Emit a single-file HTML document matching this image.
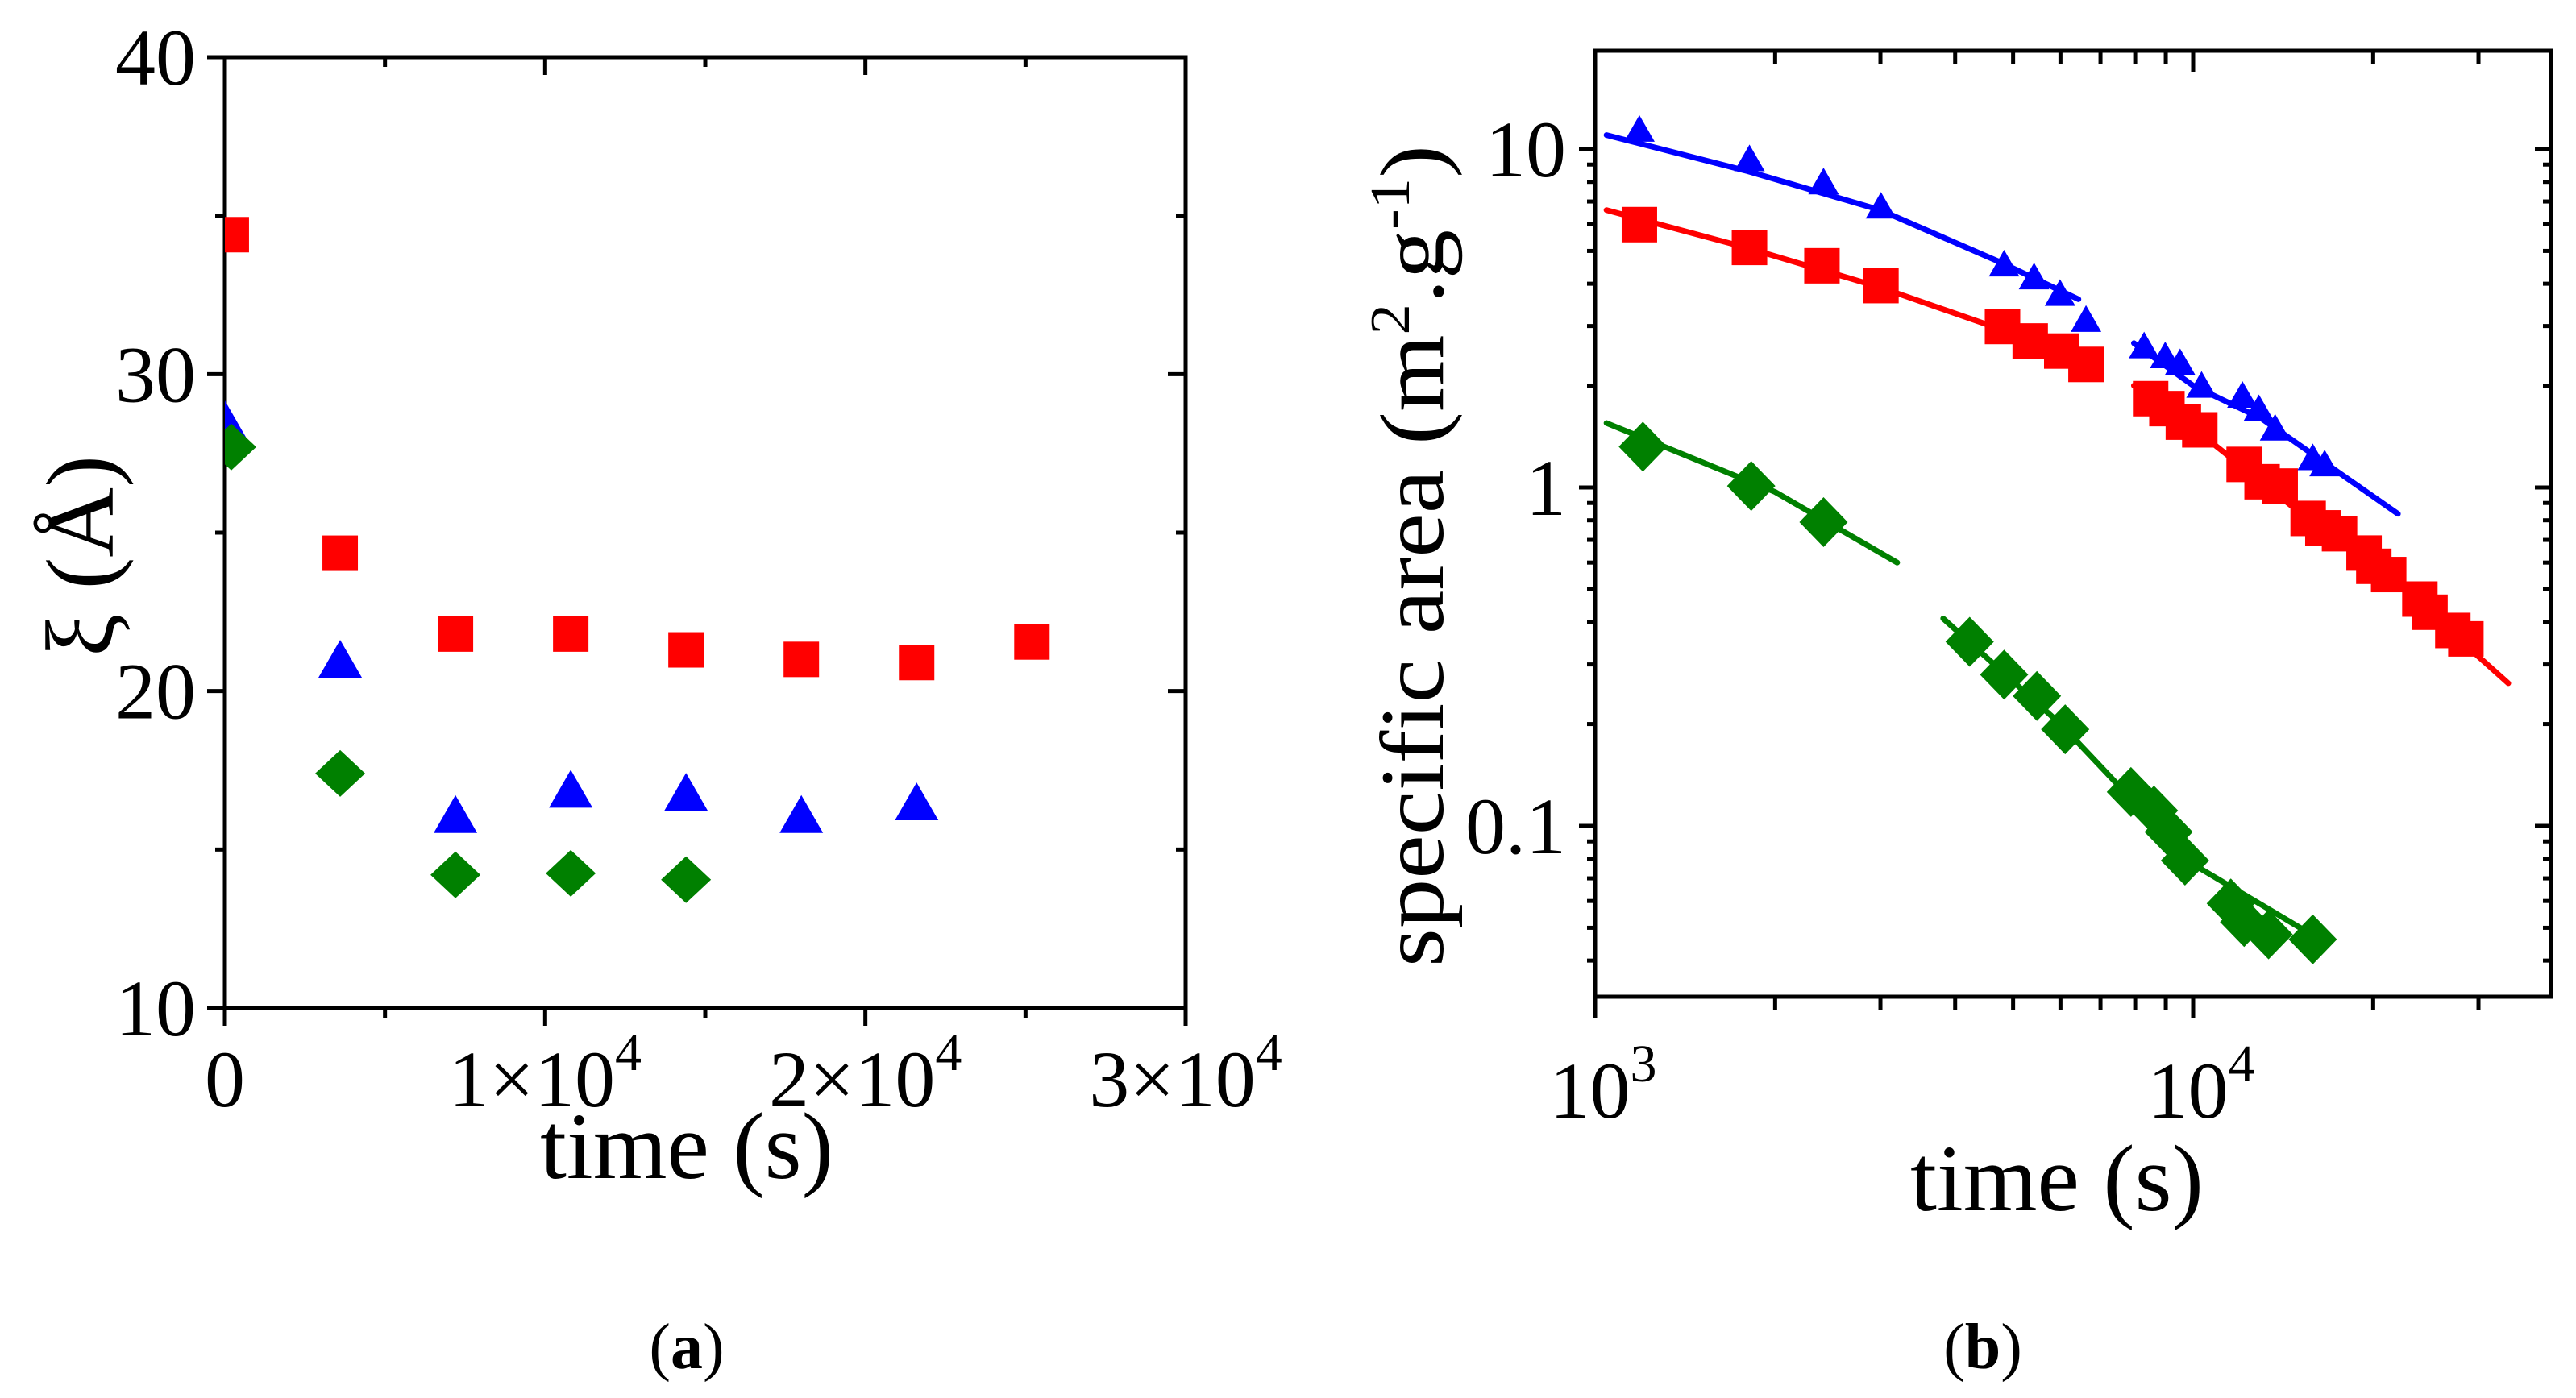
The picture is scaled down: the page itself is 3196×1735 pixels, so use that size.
<!DOCTYPE html>
<html><head><meta charset="utf-8"><style>
html,body{margin:0;padding:0;background:#fff;}
svg{display:block;}
text{font-family:"Liberation Serif",serif;fill:#000;}
</style></head><body>
<svg id="fig" width="3196" height="1735" viewBox="0 0 3196 1735" xmlns="http://www.w3.org/2000/svg">
<g id="pa"></g>
<g id="pb"></g>
<text x="852" y="1698" font-size="80" text-anchor="middle">(<tspan font-weight="bold">a</tspan>)</text>
<text x="2460" y="1698" font-size="80" text-anchor="middle">(<tspan font-weight="bold">b</tspan>)</text>
</svg>
<script>
// ---- Panel A data ----
const aRedT = [200, 3600, 7200, 10800, 14400, 18000, 21600, 25200];
const aRedY = [34.4, 24.35, 21.8, 21.8, 21.3, 21.0, 20.9, 21.55];
const aBlueT = [0, 3600, 7200, 10800, 14400, 18000, 21600];
const aBlueY = [28.45, 20.9, 16.0, 16.8, 16.7, 16.0, 16.4];
const aGreenT = [200, 3600, 7200, 10800, 14400];
const aGreenY = [27.7, 17.4, 14.2, 14.25, 14.05];
const aYTicks = [10, 20, 30, 40];
const aXTicks = [0, 10000, 20000, 30000];
const aXTickLabels = ["0", "1×10", "2×10", "3×10"];

// ---- Panel B data ----
const bBlueT = [1186, 1812, 2410, 3006, 4830, 5420, 5990, 6620, 8280, 8980, 9510, 10330, 12090, 12880, 13710, 15850, 16590];
const bBlueS = [11.3, 9.25, 7.9, 6.7, 4.52, 4.14, 3.7, 3.1, 2.59, 2.42, 2.31, 1.98, 1.85, 1.69, 1.48, 1.21, 1.16];
const bRedT = [1186, 1812, 2395, 3006, 4800, 5340, 6030, 6620, 8490, 9040, 9630, 10260, 12170, 13040, 13980, 15570, 16480, 17570, 19310, 20050, 21230, 23940, 24890, 27180, 28580];
const bRedS = [5.98, 5.12, 4.52, 3.95, 2.99, 2.71, 2.53, 2.31, 1.83, 1.71, 1.56, 1.48, 1.17, 1.04, 1.01, 0.81, 0.76, 0.73, 0.64, 0.585, 0.553, 0.468, 0.428, 0.378, 0.357];
const bGreenT = [1202, 1824, 2410, 4230, 4830, 5480, 6110, 7870, 8600, 9100, 9690, 11560, 12170, 13370, 15850];
const bGreenS = [1.32, 1.01, 0.79, 0.35, 0.28, 0.242, 0.193, 0.126, 0.111, 0.096, 0.079, 0.059, 0.052, 0.0478, 0.0462];
const bBlueFit1T = [1045, 1800, 3000, 4800, 6430];
const bBlueFit1S = [11.0, 8.6, 6.6, 4.6, 3.6];
const bBlueFit2T = [7960, 10000, 13000, 22000];
const bBlueFit2S = [2.67, 2.0, 1.6, 0.836];
const bRedFit1T = [1045, 1800, 3000, 5000, 6900];
const bRedFit1S = [6.6, 5.1, 3.9, 2.85, 2.25];
const bRedFit2T = [7960, 10000, 15000, 20000, 33650];
const bRedFit2S = [2.0, 1.5, 0.85, 0.6, 0.264];
const bGreenFit1T = [1045, 2000, 3200];
const bGreenFit1S = [1.55, 0.97, 0.6];
const bGreenFit2T = [3820, 6000, 10000, 15100];
const bGreenFit2S = [0.41, 0.2, 0.077, 0.05];
const bYTicks = [0.1, 1, 10];
const bYTickLabels = ["0.1", "1", "10"];
const bXTicks = [1000, 10000];
const bXTickExp = ["3", "4"];

const NS = "http://www.w3.org/2000/svg";
function mk(parent, tag, attrs) {
  const e = document.createElementNS(NS, tag);
  for (const k in attrs) e.setAttribute(k, attrs[k]);
  parent.appendChild(e);
  return e;
}
const RED = "#ff0000", BLUE = "#0000ff", GREEN = "#008000";

function square(g, x, y, s, c) { return mk(g, "rect", {x: x - s / 2, y: y - s / 2, width: s, height: s, fill: c}); }
function tri(g, x, y, s, c) { const h = s * 0.87; return mk(g, "polygon", {points: `${x},${y - h * 0.6} ${x - s / 2},${y + h * 0.4} ${x + s / 2},${y + h * 0.4}`, fill: c}); }
function diam(g, x, y, w, h, c) { return mk(g, "polygon", {points: `${x},${y - h / 2} ${x + w / 2},${y} ${x},${y + h / 2} ${x - w / 2},${y}`, fill: c, "stroke-linejoin": "round"}); }

// ---------- Panel A ----------
(function () {
  const g = document.getElementById("pa");
  const L = 279, R = 1471, T = 71, B = 1251;
  const X = t => L + (t - 0) / 30000 * (R - L);
  const Y = v => B - (v - 10) / 30 * (B - T);
  const ax = mk(g, "g", {});
  
  
  const fr = mk(ax, "rect", {x: L, y: T, width: R - L, height: B - T, fill: "none", stroke: "#000", "stroke-width": 5});
  
  
  for (let v = 10; v <= 40; v += 5) {
    const major = v % 10 === 0, len = major ? 22 : 12;
    mk(ax, "line", {x1: L - len, x2: L, y1: Y(v), y2: Y(v), stroke: "#000", "stroke-width": 5});
    mk(ax, "line", {x1: R, x2: R - len, y1: Y(v), y2: Y(v), stroke: "#000", "stroke-width": 5});
  }
  for (let t = 0; t <= 30000; t += 5000) {
    const major = t % 10000 === 0, len = major ? 22 : 12;
    mk(ax, "line", {x1: X(t), x2: X(t), y1: B, y2: B + len, stroke: "#000", "stroke-width": 5});
    mk(ax, "line", {x1: X(t), x2: X(t), y1: T, y2: T + len, stroke: "#000", "stroke-width": 5});
  }
  aYTicks.forEach(v => {
    const t = mk(ax, "text", {x: L - 36, y: Y(v) + 34, "font-size": 100, "text-anchor": "end"});
    t.textContent = String(v);
    
    
  });
  aXTicks.forEach((v, i) => {
    const t = mk(ax, "text", {x: X(v), y: B + 122, "font-size": 100, "text-anchor": "middle"});
    t.textContent = aXTickLabels[i];
    if (i > 0) { const s = mk(t, "tspan", {dy: -45, "font-size": 66}); s.textContent = "4"; }
    
    
  });
  const xt = mk(g, "text", {x: 852, y: 1462, "font-size": 118, "text-anchor": "middle"});
  xt.textContent = "time (s)";
  
  
  const yt = mk(g, "text", {x: 0, y: 0, "font-size": 120, "text-anchor": "middle", transform: "translate(140,690) rotate(-90)"});
  yt.textContent = "ξ (Å)";
  
  
  const clip = mk(g, "clipPath", {id: "clipA"});
  mk(clip, "rect", {x: L, y: T, width: R - L, height: B - T});
  const pts = mk(g, "g", {"clip-path": "url(#clipA)"});
  aRedT.forEach((t, i) => { const e = square(pts, X(t), Y(aRedY[i]), 44, RED);   });
  aBlueT.forEach((t, i) => { const e = tri(pts, X(t), Y(aBlueY[i]), 54, BLUE);   });
  aGreenT.forEach((t, i) => { const e = diam(pts, X(t), Y(aGreenY[i]), 62, 58, GREEN);   });
})();

// ---------- Panel B ----------
(function () {
  const g = document.getElementById("pb");
  const L = 1979, R = 3165, T = 63, B = 1237;
  const DX = 742, DY = 420, Y10 = 185;
  const X = t => L + (Math.log10(t) - 3) * DX;
  const Y = s => Y10 - (Math.log10(s) - 1) * DY;
  const ax = mk(g, "g", {});
  
  
  const fr = mk(ax, "rect", {x: L, y: T, width: R - L, height: B - T, fill: "none", stroke: "#000", "stroke-width": 5});
  
  
  for (let d = -2; d <= 1; d++) for (let m = 1; m <= 9; m++) {
    const v = m * Math.pow(10, d), y = Y(v);
    if (y < T - 1 || y > B + 1) continue;
    const len = m === 1 ? 20 : 10;
    mk(ax, "line", {x1: L - len, x2: L, y1: y, y2: y, stroke: "#000", "stroke-width": 5});
    mk(ax, "line", {x1: R, x2: R - len, y1: y, y2: y, stroke: "#000", "stroke-width": 5});
  }
  for (let d = 3; d <= 4; d++) for (let m = 1; m <= 9; m++) {
    const v = m * Math.pow(10, d), x = X(v);
    if (x > R + 1) continue;
    const len = m === 1 ? 26 : 16;
    mk(ax, "line", {x1: x, x2: x, y1: B, y2: B + len, stroke: "#000", "stroke-width": 5});
    mk(ax, "line", {x1: x, x2: x, y1: T, y2: T + len, stroke: "#000", "stroke-width": 5});
  }
  bYTicks.forEach((v, i) => {
    const t = mk(ax, "text", {x: L - 36, y: Y(v) + 34, "font-size": 100, "text-anchor": "end"});
    t.textContent = bYTickLabels[i];
    
    
  });
  bXTicks.forEach((v, i) => {
    const t = mk(ax, "text", {x: X(v) + 10, y: B + 150, "font-size": 100, "text-anchor": "middle"});
    t.textContent = "10";
    const s = mk(t, "tspan", {dy: -45, "font-size": 66}); s.textContent = bXTickExp[i];
    
    
  });
  const xt = mk(g, "text", {x: 2552, y: 1502, "font-size": 118, "text-anchor": "middle"});
  xt.textContent = "time (s)";
  
  
  const yt = mk(g, "text", {x: 0, y: 0, "font-size": 112, "text-anchor": "middle", transform: "translate(1790,690) rotate(-90)", textLength: 1020, lengthAdjust: "spacingAndGlyphs"});
  yt.appendChild(document.createTextNode("specific area (m"));
  const s1 = mk(yt, "tspan", {dy: -42, "font-size": 70}); s1.textContent = "2";
  const s2 = mk(yt, "tspan", {dy: 42}); s2.textContent = ".g";
  const s3 = mk(yt, "tspan", {dy: -42, "font-size": 70}); s3.textContent = "-1";
  const s4 = mk(yt, "tspan", {dy: 42}); s4.textContent = ")";
  
  

  const clip = mk(g, "clipPath", {id: "clipB"});
  mk(clip, "rect", {x: L, y: T, width: R - L, height: B - T});
  const plot = mk(g, "g", {"clip-path": "url(#clipB)"});
  function fit(ts, ss, c, name) {
    const p = mk(plot, "polyline", {points: ts.map((t, i) => X(t) + "," + Y(ss[i])).join(" "), fill: "none", stroke: c, "stroke-width": 7, "stroke-linecap": "round", "stroke-linejoin": "round"});
    
    
  }
  fit(bBlueFit1T, bBlueFit1S, BLUE, 'blue-fit-line-1');
  fit(bBlueFit2T, bBlueFit2S, BLUE, 'blue-fit-line-2');
  fit(bRedFit1T, bRedFit1S, RED, 'red-fit-line-1');
  fit(bRedFit2T, bRedFit2S, RED, 'red-fit-line-2');
  fit(bGreenFit1T, bGreenFit1S, GREEN, 'green-fit-line-1');
  fit(bGreenFit2T, bGreenFit2S, GREEN, 'green-fit-line-2');
  bRedT.forEach((t, i) => { const e = square(plot, X(t), Y(bRedS[i]), 44, RED);   });
  bBlueT.forEach((t, i) => { const e = tri(plot, X(t), Y(bBlueS[i]), 38, BLUE);   });
  bGreenT.forEach((t, i) => { const e = diam(plot, X(t), Y(bGreenS[i]), 60, 62, GREEN);   });
})();
</script>
</body></html>
